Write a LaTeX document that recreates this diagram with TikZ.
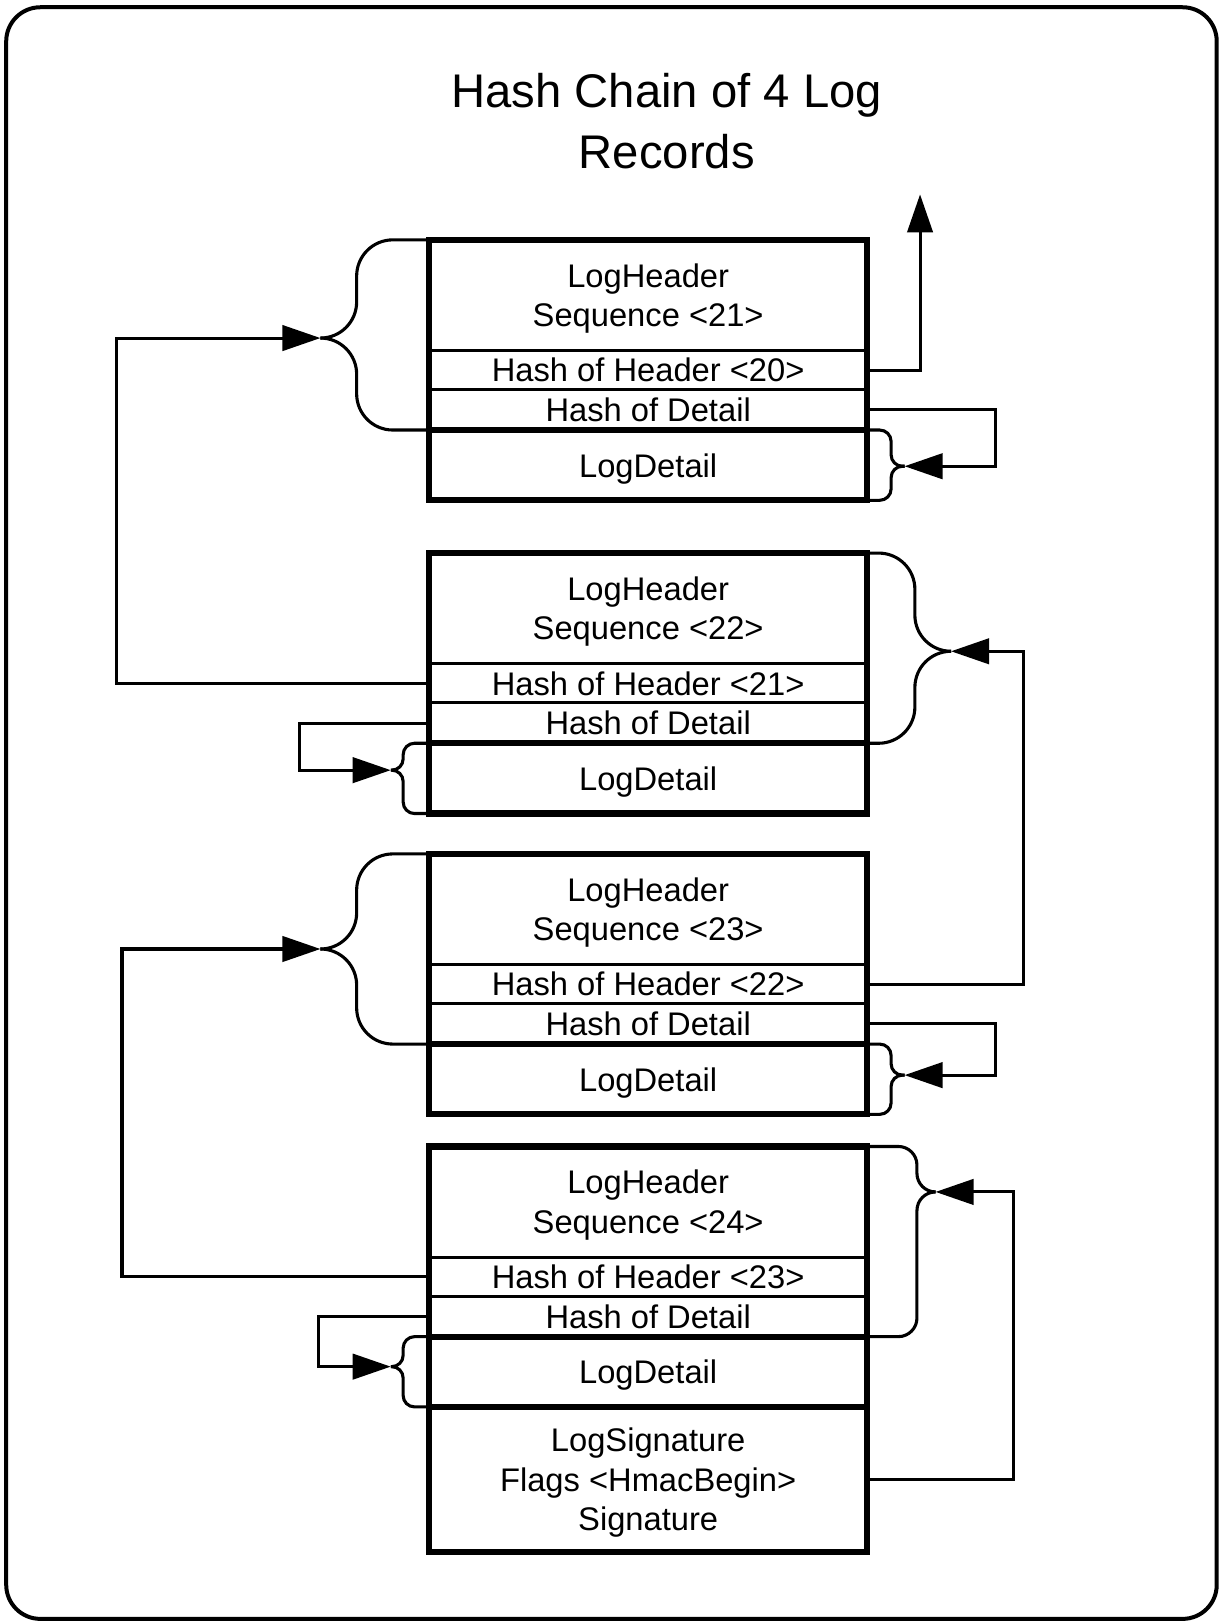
\documentclass[tikz,border=0pt]{standalone}
\usepackage{fontspec}
\setmainfont{Liberation Sans}
\usetikzlibrary{positioning,calc,arrows.meta}

\tikzset{
  field/.style={draw, line width=1.6pt, minimum width=8.48cm, inner sep=0pt, outer sep=0pt,
    text depth=0pt, align=center, font=\fontsize{18}{21.6}\selectfont},
  recframe/.style={line width=3.4pt},
  link/.style={line width=1.7pt},
  chain/.style={link, -{Triangle[length=21pt,width=14pt]}},
  bigbrace/.style={link, rounded corners=0.7cm},
  smallbrace/.style={link, rounded corners=0.22cm},
}

\begin{document}
\begin{tikzpicture}[x=0.02cm, y=-0.02cm, node distance=0pt]
		%%%%% START %%%%%
		\useasboundingbox (0,0) rectangle (1185,1570);
		\draw[line width=2.2pt, rounded corners=0.66cm] (6,7) rectangle (1177,1566);
		
		\node[font=\fontsize{26}{33.5}\selectfont, align=center] (title) at (645,117) {Hash Chain of 4 Log\\Records};
		
		% record 21
		\node[field, minimum height=2.14cm] (r1h) at (627,285.5) {LogHeader\\Sequence <21>};
		\node[field, minimum height=0.76cm, below=of r1h] (r1hh) {Hash of Header <20>};
		\node[field, minimum height=0.78cm, below=of r1hh] (r1hd) {Hash of Detail};
		\node[field, minimum height=1.36cm, below=of r1hd] (r1d) {LogDetail};
		
		% record 22
		\node[field, minimum height=2.14cm] (r2h) at (627,588.5) {LogHeader\\Sequence <22>};
		\node[field, minimum height=0.76cm, below=of r2h] (r2hh) {Hash of Header <21>};
		\node[field, minimum height=0.78cm, below=of r2hh] (r2hd) {Hash of Detail};
		\node[field, minimum height=1.36cm, below=of r2hd] (r2d) {LogDetail};
		
		% record 23
		\node[field, minimum height=2.14cm] (r3h) at (627,879.5) {LogHeader\\Sequence <23>};
		\node[field, minimum height=0.76cm, below=of r3h] (r3hh) {Hash of Header <22>};
		\node[field, minimum height=0.78cm, below=of r3hh] (r3hd) {Hash of Detail};
		\node[field, minimum height=1.36cm, below=of r3hd] (r3d) {LogDetail};
		
		% record 24
		\node[field, minimum height=2.14cm] (r4h) at (627,1162.5) {LogHeader\\Sequence <24>};
		\node[field, minimum height=0.76cm, below=of r4h] (r4hh) {Hash of Header <23>};
		\node[field, minimum height=0.78cm, below=of r4hh] (r4hd) {Hash of Detail};
		\node[field, minimum height=1.36cm, below=of r4hd] (r4d) {LogDetail};
		\node[field, minimum height=2.8cm, below=of r4d] (r4sig) {LogSignature\\Flags <HmacBegin>\\Signature};
		
		% brace tips
		\coordinate (prev) at (890,188);
		\coordinate (lt1) at (310,327);
		\coordinate (rt1) at (875,451);
		\coordinate (rt2) at (920,630);
		\coordinate (ld2) at (378,745);
		\coordinate (lt3) at (310,918);
		\coordinate (rt3) at (875,1040);
		\coordinate (rt4) at (905,1153);
		\coordinate (ld4) at (378,1322);
		
		% braces
		\draw[bigbrace] (r1h.north west) -| ($(lt1)+(35,0)$) -- (lt1);
		\draw[bigbrace] (r1hd.south west) -| ($(lt1)+(35,0)$) -- (lt1);
		\draw[smallbrace] (r1d.north east) -| ($(rt1)+(-13,0)$) -- (rt1);
		\draw[smallbrace] (r1d.south east) -| ($(rt1)+(-13,0)$) -- (rt1);
		
		\draw[bigbrace] (r2h.north east) -| ($(rt2)+(-35,0)$) -- (rt2);
		\draw[bigbrace] (r2hd.south east) -| ($(rt2)+(-35,0)$) -- (rt2);
		\draw[smallbrace] (r2d.north west) -| ($(ld2)+(12,0)$) -- (ld2);
		\draw[smallbrace] (r2d.south west) -| ($(ld2)+(12,0)$) -- (ld2);
		
		\draw[bigbrace] (r3h.north west) -| ($(lt3)+(35,0)$) -- (lt3);
		\draw[bigbrace] (r3hd.south west) -| ($(lt3)+(35,0)$) -- (lt3);
		\draw[smallbrace] (r3d.north east) -| ($(rt3)+(-13,0)$) -- (rt3);
		\draw[smallbrace] (r3d.south east) -| ($(rt3)+(-13,0)$) -- (rt3);
		
		\draw[link, rounded corners=0.36cm] (r4h.north east) -| ($(rt4)+(-18,0)$) -- (rt4);
		\draw[link, rounded corners=0.36cm] (r4hd.south east) -| ($(rt4)+(-18,0)$) -- (rt4);
		\draw[smallbrace] (r4d.north west) -| ($(ld4)+(12,0)$) -- (ld4);
		\draw[smallbrace] (r4d.south west) -| ($(ld4)+(12,0)$) -- (ld4);
		
		% hash links
		\draw[chain] (r1hh.east) -| (prev);
		\draw[chain] (r1hd.east) -- ++(124,0) |- (rt1);
		\draw[chain] (r2hh.west) -- ++(-302,0) |- (lt1);
		\draw[chain] (r2hd.west) -- ++(-125,0) |- (ld2);
		\draw[chain] (r3hh.east) -- ++(151,0) |- (rt2);
		\draw[chain] (r3hd.east) -- ++(124,0) |- (rt3);
		\draw[chain] (r4hh.west) -- ++(-297,0) |- (lt3);
		\draw[chain] (r4hd.west) -- ++(-107,0) |- (ld4);
		\draw[chain] (r4sig.east) -- ++(141,0) |- (rt4);
		
		% record frames
		\draw[recframe] (r1h.north west) rectangle (r1d.south east);
		\draw[recframe] (r1d.north west) -- (r1d.north east);
		\draw[recframe] (r2h.north west) rectangle (r2d.south east);
		\draw[recframe] (r2d.north west) -- (r2d.north east);
		\draw[recframe] (r3h.north west) rectangle (r3d.south east);
		\draw[recframe] (r3d.north west) -- (r3d.north east);
		\draw[recframe] (r4h.north west) rectangle (r4sig.south east);
		\draw[recframe] (r4d.north west) -- (r4d.north east);
		\draw[recframe] (r4sig.north west) -- (r4sig.north east);
		
		%%%%% END %%%%%
\end{tikzpicture}
\end{document}
